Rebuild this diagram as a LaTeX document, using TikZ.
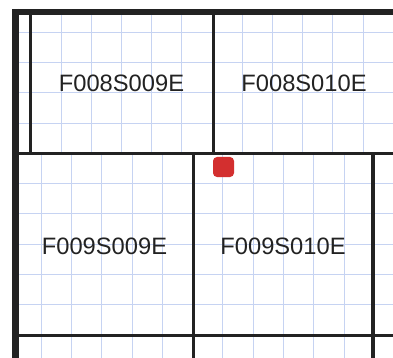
\documentclass[tikz,border=0pt]{standalone}
\usepackage{fontspec}
\setmainfont{Liberation Sans}
\definecolor{gridblue}{HTML}{C6D3F2}
\definecolor{ink}{HTML}{222222}
\definecolor{marker}{HTML}{D32F2F}
\tikzset{
  gridline/.style={draw=gridblue, line width=0.7pt},
  border/.style={draw=ink, line width=7pt},
  topborder/.style={draw=ink, line width=6pt},
  tileline/.style={draw=ink, line width=3.5pt},
  tilelabel/.style={font=\fontsize{23.7}{28}\selectfont, text=ink, inner sep=0pt},
}
\begin{document}
\begin{tikzpicture}[x=1pt,y=-1pt]
\useasboundingbox[fill=white] (0,0) rectangle (393,358);
% grid, upper sheet
\foreach \k in {1,...,12} {
  \draw[gridline] ({0.6+30.2*\k},15) -- ({0.6+30.2*\k},153);
}
% grid, lower sheet
\foreach \k in {0,...,11} {
  \draw[gridline] ({41+30.3*\k},153) -- ({41+30.3*\k},358);
}
% horizontal grid
\foreach \k in {1,...,11} {
  \draw[gridline] (19,{1.7+30.3*\k}) -- (393,{1.7+30.3*\k});
}
% tile lines
\draw[tileline] (30.5,15) -- (30.5,153.5);
\draw[tileline] (213.5,15) -- (213.5,153.5);
\draw[tileline] (19,153.5) -- (393,153.5);
\draw[tileline] (193.5,153.5) -- (193.5,358);
\draw[tileline] (373,153.5) -- (373,358);
\draw[tileline] (19,335.5) -- (393,335.5);
% thick borders
\draw[topborder] (12,12) -- (393,12);
\draw[border] (15.5,9) -- (15.5,358);
% marker
\fill[marker, rounded corners=4pt] (213,157) rectangle (234,177);
% labels
\node[tilelabel] (t1) at (121.5,83) {F008S009E};
\node[tilelabel] (t2) at (304,83) {F008S010E};
\node[tilelabel] (t3) at (104.5,246) {F009S009E};
\node[tilelabel] (t4) at (283,246) {F009S010E};
\end{tikzpicture}
\end{document}
